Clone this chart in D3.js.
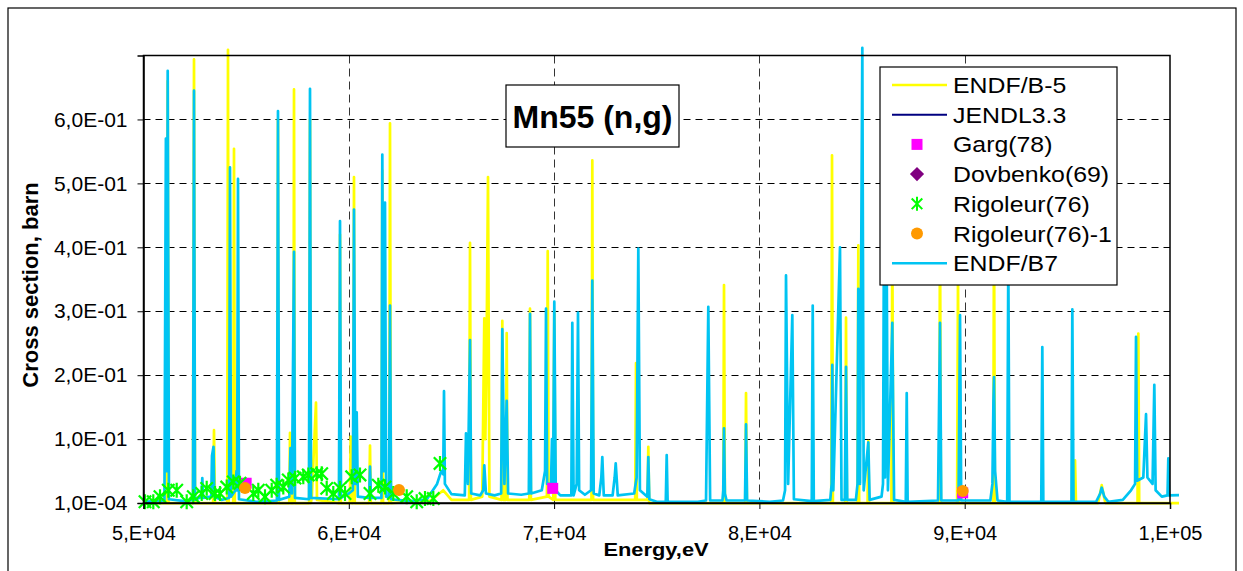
<!DOCTYPE html>
<html>
<head>
<meta charset="utf-8">
<script src="https://cdn.jsdelivr.net/npm/d3@7"></script>
<style>
  body { margin: 0; background: #fff; }
  text { font-family: Arial, "Liberation Sans", sans-serif; fill: #000; }
</style>
</head>
<body>
<svg id="chart" width="1243" height="571"></svg>
<script>
// ---- axis ticks -------------------------------------------------------
const xTicks = [50000, 60000, 70000, 80000, 90000, 100000];
const xTickLabels = ["5,E+04", "6,E+04", "7,E+04", "8,E+04", "9,E+04", "1,E+05"];
const yTicks = [0.0001, 0.1, 0.2, 0.3, 0.4, 0.5, 0.6];
const yTickLabels = ["1,0E-04", "1,0E-01", "2,0E-01", "3,0E-01", "4,0E-01", "5,0E-01", "6,0E-01"];

// ---- evaluated data: [energy eV, cross section barn] -------------------
const endfB5 = [
  [50000,0.000],[51130,0.000],[51179,0.660],[51220,0.000],
  [52410,0.000],[52460,0.694],[52510,0.000],
  [53390,0.000],[53434,0.114],[53480,0.000],
  [54080,0.000],[54116,0.709],[54150,0.000],[54370,0.000],[54408,0.554],[54450,0.000],
  [56510,0.000],[56551,0.600],[56590,0.000],
  [57100,0.000],[57136,0.110],[57170,0.000],[57300,0.000],[57331,0.647],[57370,0.000],
  [58070,0.000],[58110,0.600],[58150,0.000],
  [58200,0.010],[58402,0.157],[58450,0.005],
  [59530,0.000],[59572,0.420],[59610,0.000],
  [60050,0.000],[60093,0.104],[60140,0.000],[60210,0.000],[60253,0.510],[60290,0.000],
  [60990,0.000],[61033,0.090],[61070,0.000],
  [61600,0.000],[61632,0.520],[61670,0.000],
  [61970,0.000],[62007,0.594],[62050,0.000],
  [64000,0.004],[64600,0.020],[65000,0.005],
  [65860,0.005],[65904,0.407],[65950,0.005],
  [66500,0.010],[66600,0.289],[66650,0.100],[66700,0.200],[66781,0.510],[66850,0.010],
  [67440,0.005],[67477,0.285],[67520,0.005],[67650,0.005],[67691,0.266],[67730,0.005],
  [68790,0.005],[68826,0.304],[68870,0.005],
  [69650,0.010],[69689,0.394],[69730,0.010],
  [69960,0.005],[70010,0.300],[70060,0.005],
  [71820,0.005],[71861,0.536],[71900,0.005],
  [73950,0.005],[73990,0.219],[74030,0.005],
  [74550,0.005],[74589,0.088],[74630,0.000],
  [78240,0.000],[78276,0.341],[78320,0.000],
  [79310,0.000],[79348,0.172],[79390,0.000],
  [83500,0.000],[83537,0.544],[83580,0.000],
  [84180,0.000],[84219,0.290],[84260,0.000],
  [84780,0.000],[84818,0.403],[84860,0.000],
  [85270,0.000],[85305,0.097],[85340,0.000],
  [86430,0.000],[86474,0.420],[86520,0.000],
  [88760,0.000],[88797,0.450],[88840,0.000],
  [89630,0.000],[89674,0.360],[89720,0.000],
  [91390,0.000],[91428,0.450],[91470,0.000],
  [95330,0.000],[95374,0.067],[95420,0.000],
  [96500,0.000],[96674,0.028],[96850,0.000],
  [98420,0.000],[98457,0.265],[98500,0.000],
  [100439,0.000]
];

const endfB7 = [
  [50000,0.002],
  [51020,0.004],[51091,0.570],[51130,0.050],[51179,0.676],[51240,0.006],
  [52000,0.003],
  [52410,0.005],[52460,0.645],[52510,0.005],
  [52830,0.010],[52864,0.039],[52900,0.008],
  [53300,0.010],[53337,0.074],[53410,0.088],[53450,0.010],
  [53800,0.005],
  [54170,0.008],[54213,0.525],[54260,0.010],
  [54480,0.020],[54530,0.050],[54560,0.020],[54603,0.507],[54650,0.006],
  [55500,0.002],
  [56500,0.004],[56551,0.613],[56600,0.005],
  [57100,0.010],[57160,0.086],[57230,0.015],[57331,0.393],[57380,0.008],
  [58060,0.006],[58110,0.648],[58160,0.008],
  [59520,0.006],[59572,0.441],[59620,0.008],
  [60000,0.015],
  [60200,0.020],[60253,0.459],[60320,0.030],[60385,0.142],[60440,0.010],
  [60990,0.008],[61033,0.057],[61080,0.008],
  [61590,0.008],[61632,0.545],[61700,0.050],[61763,0.470],[61820,0.010],
  [61960,0.010],[62007,0.309],[62060,0.006],
  [63000,0.003],
  [63800,0.006],[64300,0.030],[64500,0.050],[64600,0.045],[64637,0.175],[64680,0.030],[65000,0.014],
  [65650,0.012],[65709,0.109],[65800,0.030],[65904,0.255],[65960,0.015],
  [66400,0.012],
  [66550,0.020],[66600,0.059],[66680,0.015],
  [67100,0.012],
  [67420,0.015],[67477,0.272],[67580,0.030],[67691,0.160],[67760,0.015],
  [68400,0.013],
  [68770,0.015],[68826,0.296],[68880,0.015],
  [69400,0.020],[69560,0.050],[69606,0.304],[69660,0.030],
  [69850,0.030],[69898,0.100],[69950,0.030],[70010,0.315],[70080,0.020],[70300,0.012],
  [70840,0.012],[70887,0.282],[70950,0.012],[71100,0.030],[71164,0.298],[71220,0.020],[71500,0.013],
  [71800,0.020],[71861,0.348],[71930,0.015],
  [72200,0.012],[72300,0.040],[72348,0.072],[72420,0.012],
  [72850,0.012],[72950,0.040],[73001,0.062],[73100,0.012],
  [73900,0.015],[74020,0.040],[74102,0.398],[74180,0.020],
  [74540,0.010],[74589,0.072],[74640,0.006],
  [75000,0.002],
  [75440,0.002],[75485,0.075],[75530,0.002],
  [77000,0.002],
  [77400,0.004],[77511,0.307],[77600,0.004],
  [78200,0.004],[78240,0.020],[78276,0.117],[78320,0.015],[78400,0.004],
  [79300,0.004],[79348,0.123],[79400,0.004],
  [80500,0.002],
  [81150,0.004],[81250,0.020],[81296,0.356],[81400,0.030],[81603,0.294],[81680,0.006],
  [82550,0.003],[82597,0.309],[82650,0.003],
  [83450,0.005],[83520,0.030],[83551,0.216],[83600,0.020],[83926,0.400],[84000,0.005],
  [84160,0.005],[84219,0.213],[84280,0.005],
  [84700,0.005],[84780,0.030],[84818,0.335],[84900,0.030],[85013,0.712],[85080,0.020],[85305,0.095],[85370,0.005],
  [85950,0.010],[86020,0.030],[86070,0.450],[86120,0.040],[86180,0.500],[86260,0.020],[86474,0.282],[86560,0.005],
  [87130,0.002],[87176,0.172],[87220,0.002],
  [88700,0.004],[88797,0.282],[88860,0.004],
  [89700,0.004],[89772,0.294],[89830,0.004],
  [91250,0.004],[91350,0.030],[91400,0.160],[91428,0.197],[91480,0.050],[91600,0.004],
  [92070,0.002],[92124,0.380],[92180,0.002],
  [93730,0.002],[93780,0.244],[93830,0.002],
  [95200,0.002],[95242,0.303],[95300,0.002],
  [96400,0.002],[96600,0.015],[96674,0.024],[96800,0.010],[97000,0.002],
  [97700,0.005],[98100,0.020],[98300,0.030],[98345,0.260],[98400,0.035],[98700,0.040],[98832,0.139],
  [98900,0.040],[99150,0.030],[99236,0.185],[99300,0.020],[99600,0.010],
  [99880,0.012],[99918,0.070],[99950,0.012],[100439,0.0125]
];

// ---- measurements -----------------------------------------------------
const garg78 = [[55000,0.031],[69932,0.023],[89902,0.016]];
const dovbenko69 = [];
const rigoleur76 = [
  [50073,0.002],[50477,0.002],[50804,0.010],[51208,0.020],[51617,0.020],[52104,0.002],
  [52426,0.010],[52835,0.015],[53078,0.023],[53483,0.015],[53726,0.015],[54053,0.025],
  [54374,0.033],[54700,0.031],[55348,0.015],[55592,0.020],[55918,0.010],[56245,0.020],
  [56488,0.028],[56810,0.025],[57053,0.036],[57380,0.039],[57784,0.041],[58027,0.044],
  [58437,0.046],[58680,0.046],[58924,0.023],[59245,0.015],[59571,0.023],[59815,0.015],
  [60141,0.041],[60546,0.044],[61033,0.015],[61437,0.028],[61763,0.025],[62168,0.015],
  [62820,0.010],[63308,0.002],[63712,0.007],[64116,0.007],[64442,0.062]
];
const rigoleur76b = [[54944,0.0234],[62446,0.0203],[89902,0.019]];

const legendItems = ["ENDF/B-5", "JENDL3.3", "Garg(78)", "Dovbenko(69)", "Rigoleur(76)", "Rigoleur(76)-1", "ENDF/B7"];

// ---- colours ----------------------------------------------------------
const C_B5 = "#ffff00", C_JENDL = "#000080", C_GARG = "#ff00ff", C_DOV = "#800080",
      C_RIG = "#00ff00", C_RIG1 = "#ff9900", C_B7 = "#00c4f2";

// ---- layout -----------------------------------------------------------
const svg = d3.select("#chart");
const plot = { left: 143.5, right: 1170, top: 55.5, bottom: 503 };

const x = d3.scaleLinear().domain([50000, 100000]).range([plot.left, plot.right]);
const y = d3.scaleLinear().domain([0.0001, 0.7]).range([plot.bottom, plot.top]);

// outer chart frame
svg.append("rect").attr("x", 8).attr("y", 8).attr("width", 1228).attr("height", 580)
  .attr("fill", "#fff").attr("stroke", "#000").attr("stroke-width", 1.2);

// grid
const grid = svg.append("g");
grid.selectAll("line.h").data(yTicks.slice(1)).join("line")
  .attr("x1", plot.left).attr("x2", plot.right)
  .attr("y1", d => Math.round(y(d)) + 0.5).attr("y2", d => Math.round(y(d)) + 0.5)
  .attr("stroke", "#000").attr("stroke-width", 1).attr("stroke-dasharray", "7,5");
grid.selectAll("line.v").data(xTicks.slice(1, -1)).join("line")
  .attr("y1", plot.top).attr("y2", plot.bottom)
  .attr("x1", d => Math.round(x(d)) + 0.5).attr("x2", d => Math.round(x(d)) + 0.5)
  .attr("stroke", "#333").attr("stroke-width", 1).attr("stroke-dasharray", "8,5");

// series lines
const line = d3.line().x(d => x(d[0])).y(d => y(d[1]));
svg.append("path").datum(endfB5).attr("d", line)
  .attr("fill", "none").attr("stroke", C_B5).attr("stroke-width", 2.7).attr("stroke-linejoin", "round");
svg.append("path").datum(endfB7).attr("d", line)
  .attr("fill", "none").attr("stroke", C_B7).attr("stroke-width", 2.7).attr("stroke-linejoin", "round");

// marker shapes: Excel-style star = X plus a vertical bar
const star = (h, w) => `M0,${-h}V${h}M${-w},${-w}L${w},${w}M${-w},${w}L${w},${-w}`;

svg.append("g").selectAll("rect").data(garg78).join("rect")
  .attr("x", d => x(d[0]) - 5.5).attr("y", d => y(d[1]) - 5.5)
  .attr("width", 11).attr("height", 11).attr("fill", C_GARG);
svg.append("g").selectAll("path").data(dovbenko69).join("path")
  .attr("transform", d => `translate(${x(d[0])},${y(d[1])}) rotate(45)`)
  .attr("d", "M-5,-5H5V5H-5Z").attr("fill", C_DOV);
svg.append("g").selectAll("path").data(rigoleur76).join("path")
  .attr("transform", d => `translate(${x(d[0])},${y(d[1])})`)
  .attr("d", star(7.5, 6.2)).attr("stroke", C_RIG).attr("stroke-width", 2.2).attr("fill", "none");
svg.append("g").selectAll("circle").data(rigoleur76b).join("circle")
  .attr("cx", d => x(d[0])).attr("cy", d => y(d[1])).attr("r", 6).attr("fill", C_RIG1);

// plot border
svg.append("rect").attr("x", plot.left).attr("y", plot.top)
  .attr("width", plot.right - plot.left).attr("height", plot.bottom - plot.top)
  .attr("fill", "none").attr("stroke", "#000").attr("stroke-width", 1.5);

// axes
const xAxis = d3.axisBottom(x).tickValues(xTicks).tickSize(6).tickPadding(17)
  .tickFormat((d, i) => xTickLabels[i]);
const gx = svg.append("g").attr("transform", `translate(0,${plot.bottom})`).call(xAxis);
gx.select(".domain").attr("stroke", "#000").attr("stroke-width", 1.5);
gx.selectAll("text").attr("font-size", 20).attr("font-family", "Arial, 'Liberation Sans', sans-serif");

const yAxis = d3.axisLeft(y).tickValues(yTicks).tickSize(6).tickPadding(10)
  .tickFormat((d, i) => yTickLabels[i]);
const gy = svg.append("g").attr("transform", `translate(${plot.left},0)`).call(yAxis);
gy.select(".domain").attr("stroke", "#000").attr("stroke-width", 1.5);
gy.selectAll("text").attr("font-size", 21).attr("font-family", "Arial, 'Liberation Sans', sans-serif");

// axis titles
svg.append("text").attr("transform", "translate(656,556) scale(1.15,1)")
  .attr("text-anchor", "middle").attr("font-size", 19).attr("font-weight", "bold").text("Energy,eV");
svg.append("text").attr("transform", "translate(38,285) rotate(-90)")
  .attr("text-anchor", "middle").attr("font-size", 22).attr("font-weight", "bold").text("Cross section, barn");

// chart title box
svg.append("rect").attr("x", 506).attr("y", 85).attr("width", 173).attr("height", 62)
  .attr("fill", "#fff").attr("stroke", "#000").attr("stroke-width", 1.2);
svg.append("text").attr("x", 592.5).attr("y", 128).attr("text-anchor", "middle")
  .attr("font-size", 32).attr("font-weight", "bold").text("Mn55 (n,g)");

// legend
const lg = svg.append("g");
lg.append("rect").attr("x", 880).attr("y", 67).attr("width", 237).attr("height", 218)
  .attr("fill", "#fff").attr("stroke", "#000").attr("stroke-width", 1.2);
const rowY = i => 85 + i * 29.7;
const mx = 917;
lg.append("line").attr("x1", 892).attr("x2", 947).attr("y1", rowY(0)).attr("y2", rowY(0)).attr("stroke", C_B5).attr("stroke-width", 2.6);
lg.append("line").attr("x1", 892).attr("x2", 947).attr("y1", rowY(1)).attr("y2", rowY(1)).attr("stroke", C_JENDL).attr("stroke-width", 2);
lg.append("rect").attr("x", mx - 5.5).attr("y", rowY(2) - 5.5).attr("width", 11).attr("height", 11).attr("fill", C_GARG);
lg.append("path").attr("transform", `translate(${mx},${rowY(3)}) rotate(45)`).attr("d", "M-5,-5H5V5H-5Z").attr("fill", C_DOV);
lg.append("path").attr("transform", `translate(${mx},${rowY(4)})`).attr("d", star(7, 5.3)).attr("stroke", C_RIG).attr("stroke-width", 2).attr("fill", "none");
lg.append("circle").attr("cx", mx).attr("cy", rowY(5)).attr("r", 6).attr("fill", C_RIG1);
lg.append("line").attr("x1", 892).attr("x2", 947).attr("y1", rowY(6)).attr("y2", rowY(6)).attr("stroke", C_B7).attr("stroke-width", 2.6);
lg.selectAll("text").data(legendItems).join("text")
  .attr("transform", (d, i) => `translate(953,${rowY(i) + 8}) scale(1.13,1)`)
  .attr("font-size", 22).text(d => d);
</script>
</body>
</html>
